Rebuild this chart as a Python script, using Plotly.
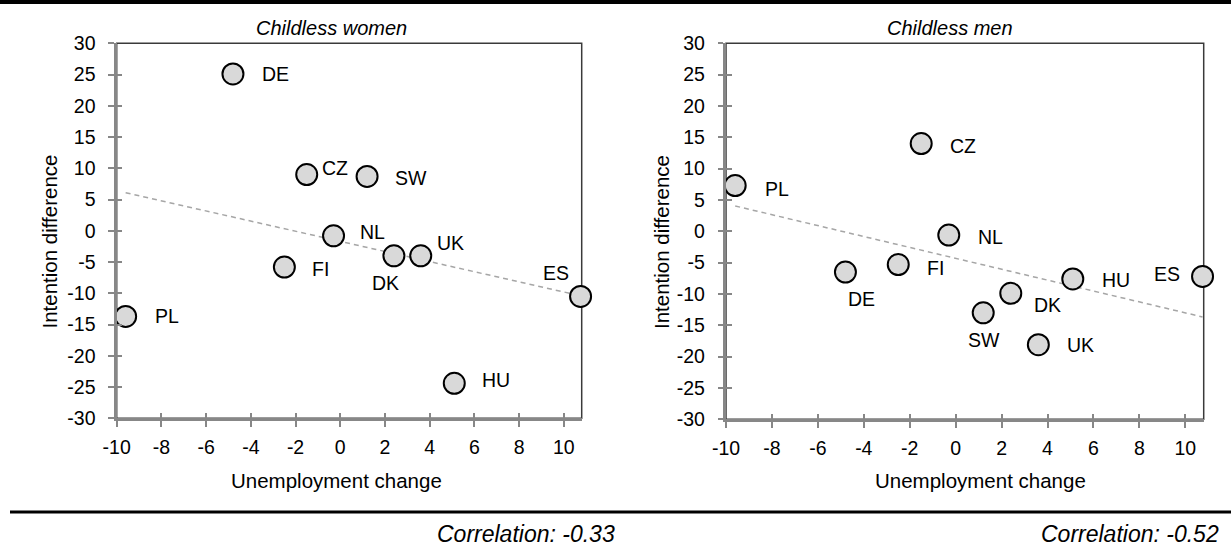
import numpy as np
import plotly.graph_objects as go

# values
countries = ["DE", "CZ", "SW", "NL", "DK", "UK", "FI", "ES", "PL", "HU"]
unemployment_change = [-4.8, -1.5, 1.2, -0.3, 2.4, 3.6, -2.5, 10.75, -9.6, 5.1]
women_diff = [25.1, 9.0, 8.7, -0.8, -4.0, -4.0, -5.8, -10.5, -13.7, -24.4]
men_diff = [-6.5, 14.0, -13.0, -0.6, -9.9, -18.1, -5.3, -7.2, 7.3, -7.6]
panel_titles = ["Childless women", "Childless men"]
correlations = ["Correlation: -0.33", "Correlation: -0.52"]
x_ticks = list(range(-10, 11, 2))
y_ticks = list(range(-30, 31, 5))

# label placement: (xanchor, xshift px, yshift px)
women_labels = {
    "DE": ("left", 27, 0), "CZ": ("left", 13, 7), "SW": ("left", 26, -2),
    "NL": ("left", 24, 4), "DK": ("center", -8, -27), "UK": ("left", 14, 13),
    "FI": ("left", 26, -2), "ES": ("right", -10, 23), "PL": ("left", 27, 0),
    "HU": ("left", 26, 3),
}
men_labels = {
    "DE": ("center", 16, -27), "CZ": ("left", 27, -2), "SW": ("center", 1, -27),
    "NL": ("left", 27, -2), "DK": ("left", 21, -12), "UK": ("left", 27, 0),
    "FI": ("left", 27, -3), "ES": ("right", -21, 2), "PL": ("left", 28, -3),
    "HU": ("left", 27, -1),
}

W, H = 1231, 549
FONT = "Liberation Sans, Arial, sans-serif"
AXIS_GREY = "#878787"

# plot areas in pixels (left, right, top, bottom)
areas = [(116.7, 581.7, 43.3, 418.3), (726, 1203.7, 43.3, 419.3)]
title_cx = [331, 949.6]
xtitle_cx = [336.6, 980.7]
ytitle_cx = [48.5, 661]
corr_right = [616.7, 1220.5]


def px_x(v):
    return v / W


def px_y(v):
    return 1 - v / H


fig = go.Figure()
annotations = []
shapes = []

panels = [(women_diff, women_labels), (men_diff, men_labels)]
for i, (ys, labels) in enumerate(panels):
    n = i + 1
    xa = "x" if n == 1 else f"x{n}"
    ya = "y" if n == 1 else f"y{n}"

    slope, intercept = np.polyfit(unemployment_change, ys, 1)
    x_line = np.array([min(unemployment_change), max(unemployment_change)])
    fig.add_trace(go.Scatter(
        x=x_line, y=slope * x_line + intercept, mode="lines",
        line=dict(color="#a6a6a6", width=1.5, dash="5px,4px"),
        xaxis=xa, yaxis=ya, showlegend=False, hoverinfo="skip"))

    fig.add_trace(go.Scatter(
        x=unemployment_change, y=ys, mode="markers",
        marker=dict(size=21, color="#d9d9d9", line=dict(color="black", width=2)),
        cliponaxis=False, xaxis=xa, yaxis=ya, showlegend=False,
        text=countries))

    for c, xv, yv in zip(countries, unemployment_change, ys):
        anchor, dx, dy = labels[c]
        annotations.append(dict(
            x=xv, y=yv, xref=xa, yref=ya, text=c, showarrow=False,
            xanchor=anchor, yanchor="middle", xshift=dx, yshift=dy,
            font=dict(size=19.5, color="black", family=FONT)))

    l, r, t, b = areas[i]
    dom_x = [px_x(l), px_x(r)]
    dom_y = [px_y(b), px_y(t)]
    ax_common = dict(showgrid=False, zeroline=False)
    fig.layout[f"xaxis{'' if n == 1 else n}"] = dict(
        domain=dom_x, range=[-10, 10.8], tickvals=x_ticks,
        ticktext=[str(v) for v in x_ticks], anchor=ya,
        showline=True, linecolor=AXIS_GREY, linewidth=2.5,
        ticks="outside", ticklen=5.5, tickcolor=AXIS_GREY, tickwidth=2,
        ticklabelstandoff=4,
        tickfont=dict(size=19.5, color="black", family=FONT), **ax_common)
    fig.layout[f"yaxis{'' if n == 1 else n}"] = dict(
        domain=dom_y, range=[-30, 30], tickvals=y_ticks,
        ticktext=[str(v) for v in y_ticks], anchor=xa,
        showline=True, linecolor=AXIS_GREY, linewidth=2.5,
        ticks="outside", ticklen=5.5, tickcolor=AXIS_GREY, tickwidth=2,
        ticklabelstandoff=9,
        tickfont=dict(size=19.5, color="black", family=FONT), **ax_common)

    # second pair of axes gives the inside half of the crossing ticks
    m = n + 2
    fig.layout[f"xaxis{m}"] = dict(
        overlaying=xa, anchor=f"y{m}", range=[-10, 10.8], tickvals=x_ticks,
        ticks="inside", ticklen=5.5, tickcolor=AXIS_GREY, tickwidth=2,
        showticklabels=False, showline=False, **ax_common)
    fig.layout[f"yaxis{m}"] = dict(
        overlaying=ya, anchor=f"x{m}", range=[-30, 30], tickvals=y_ticks,
        ticks="inside", ticklen=5.5, tickcolor=AXIS_GREY, tickwidth=2,
        showticklabels=False, showline=False, **ax_common)
    fig.add_trace(go.Scatter(x=[None], y=[None], xaxis=f"x{m}", yaxis=f"y{m}",
                             showlegend=False, hoverinfo="skip"))

    # thin dark frame round the plot area
    shapes.append(dict(type="rect", xref=f"{xa} domain", yref=f"{ya} domain",
                       x0=0, x1=1, y0=0, y1=1, layer="below",
                       line=dict(color="#3a3a3a", width=1.5)))

    # titles
    annotations.append(dict(
        x=px_x(title_cx[i]), y=px_y(28), xref="paper", yref="paper",
        text=f"<i>{panel_titles[i]}</i>", showarrow=False,
        xanchor="center", yanchor="middle",
        font=dict(size=20, color="black", family=FONT)))
    annotations.append(dict(
        x=px_x(xtitle_cx[i]), y=px_y(480), xref="paper", yref="paper",
        text="Unemployment change", showarrow=False,
        xanchor="center", yanchor="middle",
        font=dict(size=20.5, color="black", family=FONT)))
    annotations.append(dict(
        x=px_x(ytitle_cx[i]), y=px_y(242), xref="paper", yref="paper",
        text="Intention difference", showarrow=False, textangle=-90,
        xanchor="center", yanchor="middle",
        font=dict(size=20.5, color="black", family=FONT)))
    annotations.append(dict(
        x=px_x(corr_right[i]), y=px_y(534), xref="paper", yref="paper",
        text=f"<i>{correlations[i]}</i>", showarrow=False,
        xanchor="right", yanchor="middle",
        font=dict(size=23, color="black", family=FONT)))

# horizontal rules at top and bottom
shapes.append(dict(type="line", xref="paper", yref="paper", x0=0, x1=1,
                   y0=px_y(2), y1=px_y(2), line=dict(color="black", width=4)))
shapes.append(dict(type="line", xref="paper", yref="paper", x0=px_x(10), x1=1,
                   y0=px_y(512), y1=px_y(512), line=dict(color="black", width=3)))

fig.update_layout(
    width=W, height=H,
    margin=dict(l=0, r=0, t=0, b=0, autoexpand=False),
    paper_bgcolor="white", plot_bgcolor="white",
    annotations=annotations, shapes=shapes,
    font=dict(family=FONT, color="black"),
)

fig.write_html("out.html", config={"displayModeBar": False},
               post_script="document.body.style.margin='0px';")
